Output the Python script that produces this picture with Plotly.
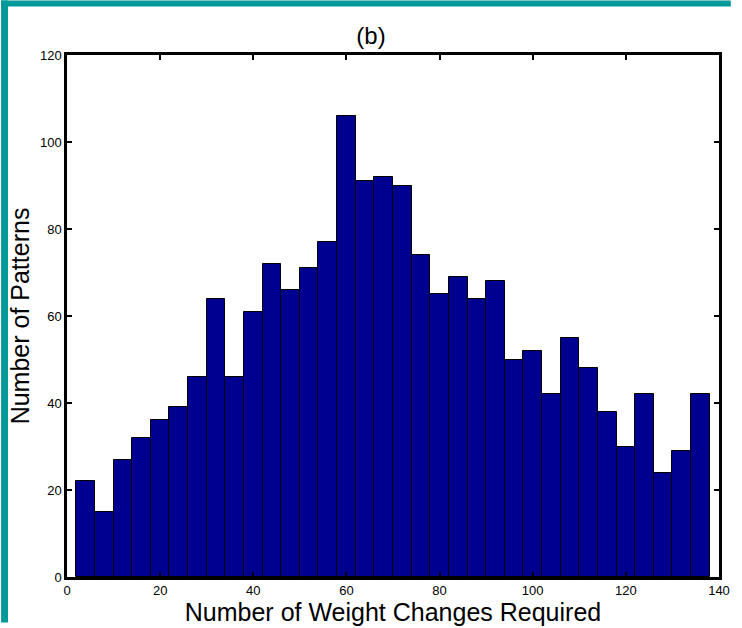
import plotly.graph_objects as go

# Histogram data: bin centres (bins 4 wide, from 2 to 138) and counts
bin_centers = [4, 8, 12, 16, 20, 24, 28, 32, 36, 40, 44, 48, 52, 56, 60, 64, 68,
               72, 76, 80, 84, 88, 92, 96, 100, 104, 108, 112, 116, 120, 124, 128, 132, 136]
counts = [22, 15, 27, 32, 36, 39, 46, 64, 46, 61, 72, 66, 71, 77, 106, 91, 92,
          90, 74, 65, 69, 64, 68, 50, 52, 42, 55, 48, 38, 30, 42, 24, 29, 42]
x_ticks = [0, 20, 40, 60, 80, 100, 120, 140]
y_ticks = [0, 20, 40, 60, 80, 100, 120]

W, H = 742, 628
L, R, T, B = 67, 12, 55, 46
pw, ph = W - L - R, H - T - B

def px(x):
    return (x - L) / pw

def py(y):
    return (H - B - y) / ph

fig = go.Figure()
fig.add_trace(go.Bar(
    x=bin_centers, y=counts, width=4,
    marker=dict(color="#000090", line=dict(color="black", width=1)),
))

teal = "#009999"
shapes = [
    dict(type="rect", xref="paper", yref="paper", x0=px(0), x1=px(742), y0=py(0), y1=py(6),
         fillcolor=teal, line=dict(width=0), layer="above"),
    dict(type="rect", xref="paper", yref="paper", x0=px(0), x1=px(7), y0=py(0), y1=py(628),
         fillcolor=teal, line=dict(width=0), layer="above"),
]

font = "Liberation Sans, Arial, Helvetica, sans-serif"
fig.update_layout(
    width=W, height=H,
    margin=dict(l=L, r=R, t=T, b=B, pad=0),
    paper_bgcolor="white", plot_bgcolor="white",
    showlegend=False, bargap=0,
    font=dict(family=font, color="black", size=12),
    title=dict(text="(b)", x=px(398.5), xanchor="center", y=1 - 36 / H, yanchor="middle",
               font=dict(size=24, family=font, color="black")),
    shapes=shapes,
    xaxis=dict(range=[0, 140], tickvals=x_ticks, ticks="inside", ticklen=5, tickwidth=1.5,
               tickcolor="black", showline=True, linecolor="black", linewidth=2.5,
               mirror="allticks", showgrid=False, zeroline=False,
               tickfont=dict(size=13, family=font),
               title=dict(text="Number of Weight Changes Required", standoff=0,
                          font=dict(size=25, family=font))),
    yaxis=dict(range=[0, 120], tickvals=y_ticks, ticks="inside", ticklen=5, tickwidth=1.5,
               tickcolor="black", showline=True, linecolor="black", linewidth=2.5,
               mirror="allticks", showgrid=False, zeroline=False,
               tickfont=dict(size=13, family=font),
               title=dict(text="Number of Patterns", standoff=4,
                          font=dict(size=25, family=font))),
)

fig.write_html(
    "out.html",
    config={"displayModeBar": False},
    post_script=(
        "document.documentElement.style.overflow='hidden';"
        "document.body.style.margin='0';document.body.style.overflow='hidden';"
        "window.dispatchEvent(new Event('resize'));"
    ),
)
